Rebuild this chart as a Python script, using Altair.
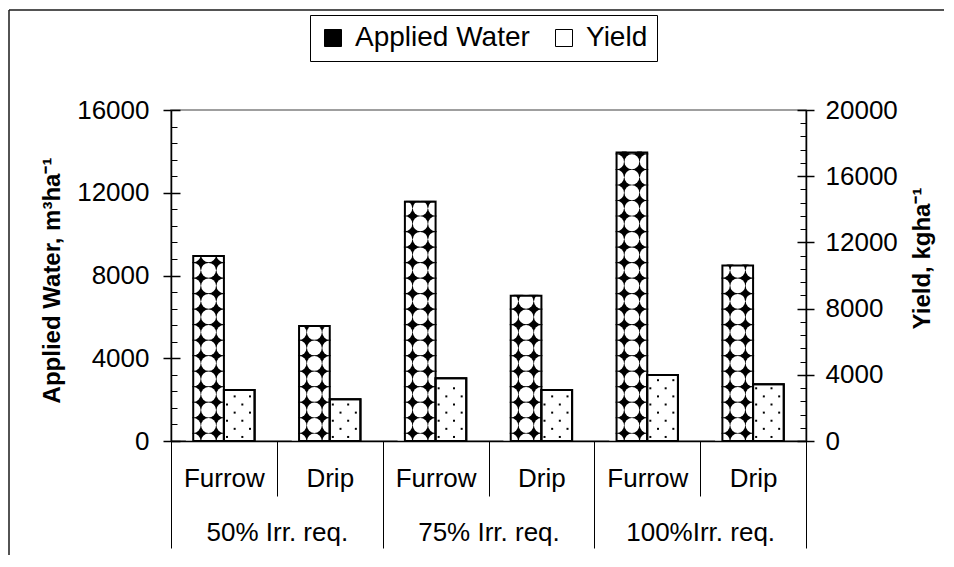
import json
import altair as alt
import pandas as pd

# ---------------- data ----------------
irrigation = ["50% Irr. req.", "75% Irr. req.", "100%Irr. req."]
methods = ["Furrow", "Drip"]
series = ["Applied Water", "Yield"]
applied_water = [8940, 5560, 11570, 7020, 13940, 8480]   # m3/ha (left axis)
yield_kg = [3080, 2520, 3790, 3080, 3990, 3430]           # kg/ha (right axis)
left_ticks = [0, 4000, 8000, 12000, 16000]
right_ticks = [0, 4000, 8000, 12000, 16000, 20000]

FONT = "Liberation Sans"
n = len(applied_water)
slots = list(range(n))
W = 0.29  # bar width in category units

bars = pd.DataFrame({
    "slot": slots,
    "group": [irrigation[i // 2] for i in slots],
    "method": [methods[i % 2] for i in slots],
    "applied": applied_water,
    "yield": yield_kg,
})
bars["zero"] = 0
bars["a_left"] = bars["slot"] + 0.5 - W
bars["mid"] = bars["slot"] + 0.5
bars["y_right"] = bars["slot"] + 0.5 + W
bars["s_applied"] = series[0]
bars["s_yield"] = series[1]

# pattern helpers derived from the bar values (white circles -> black stars)
P_A = 750
circ = []
for i, v in enumerate(applied_water):
    k = 0
    while k * P_A <= v + 0.6 * P_A:
        for f in (0.0, 0.5, 1.0):
            circ.append({"cx": i + 0.5 - W + f * W, "cy": k * P_A})
        k += 1
circ_df = pd.DataFrame(circ)

P_Y = 490
dots = []
for i, v in enumerate(yield_kg):
    k = 0
    while (k + 0.5) * P_Y <= v - 200:
        offs = (0.1, 0.6) if k % 2 == 0 else (0.35, 0.85)
        for f in offs:
            dots.append({"dx": i + 0.5 + f * W, "dy": (k + 0.5) * P_Y})
        k += 1
dots_df = pd.DataFrame(dots)

# ---------------- scales ----------------
xs = alt.Scale(domain=[0, n], nice=False, zero=False)
yA = alt.Scale(domain=[0, 16000], nice=False)
yY = alt.Scale(domain=[0, 20000], nice=False)
fill_scale = alt.Scale(domain=series, range=["black", "white"])


def ax(**kw):
    base = dict(title=None, grid=False, labels=False, ticks=False, domain=False,
                zindex=1, labelFlush=False, labelOverlap=False)
    base.update(kw)
    return alt.Axis(**base)


method_labels = json.dumps([methods[i % 2] for i in slots])
group_labels = json.dumps(irrigation)

X1 = ax(orient="bottom", labels=True, values=[i + 0.5 for i in slots],
        labelExpr=f"{method_labels}[floor(datum.value)]",
        labelFont=FONT, labelFontSize=26, labelColor="black", labelPadding=37,
        labelBaseline="middle", tickSize=0, domain=True, domainColor="black",
        domainWidth=1.5)
X2 = ax(orient="bottom", ticks=True, values=[2 * g + 1 for g in range(len(irrigation))],
        tickSize=55, tickColor="black", tickWidth=1)
X3 = ax(orient="bottom", ticks=True, values=[2 * g for g in range(len(irrigation) + 1)],
        tickSize=107, tickColor="black", tickWidth=1)
X4 = ax(orient="bottom", labels=True, values=[2 * g + 1 for g in range(len(irrigation))],
        labelExpr=f"{group_labels}[floor(datum.value / 2)]",
        labelFont=FONT, labelFontSize=26, labelColor="black", labelPadding=91,
        labelBaseline="middle", tickSize=0)

YA_main = ax(orient="left", labels=True, ticks=True, domain=True, values=left_ticks,
             format="d", labelFont=FONT, labelFontSize=26, labelColor="black",
             labelPadding=14, tickSize=8, tickWidth=1.5, tickColor="black",
             domainColor="black", domainWidth=1.5,
             title="Applied Water, m\u00b3ha\u207b\u00b9", titleFont=FONT,
             titleFontSize=24, titleFontWeight="bold", titleColor="black",
             titleAngle=270, titleX=-119, titleY=170, titleAlign="center",
             titleBaseline="middle")
YA_inner = ax(orient="left", ticks=True, values=left_ticks, offset=-9, tickSize=9,
              tickWidth=1.5, tickColor="black")
YA_minor = ax(orient="left", ticks=True, values=list(range(0, 16001, 800)), offset=-6,
              tickSize=6, tickWidth=1, tickColor="black")

YY_main = ax(orient="right", labels=True, ticks=True, domain=True, values=right_ticks,
             format="d", labelFont=FONT, labelFontSize=26, labelColor="black",
             labelPadding=11, tickSize=8, tickWidth=1.5, tickColor="black",
             domainColor="black", domainWidth=1.5,
             title="Yield, kgha\u207b\u00b9", titleFont=FONT,
             titleFontSize=24, titleFontWeight="bold", titleColor="black",
             titleAngle=270, titleX=116, titleY=148, titleAlign="center",
             titleBaseline="middle")
YY_inner = ax(orient="right", ticks=True, values=right_ticks, offset=-9, tickSize=9,
              tickWidth=1.5, tickColor="black")
YY_minor = ax(orient="right", ticks=True, values=list(range(0, 20001, 800)), offset=-6,
              tickSize=6, tickWidth=1, tickColor="black")

legend = alt.Legend(title=None, orient="none", legendX=139, legendY=-95,
                    direction="horizontal", symbolType="square", symbolSize=289,
                    symbolStrokeColor="black", symbolStrokeWidth=1,
                    labelFont=FONT, labelFontSize=28, labelColor="black",
                    labelLimit=400, labelOffset=8, padding=9,
                    strokeColor="black", columnPadding=20)

# ---------------- applied water (left axis) ----------------
A1 = alt.Chart(bars).mark_rect(stroke="black", strokeWidth=2).encode(
    x=alt.X("a_left:Q", scale=xs, axis=X1), x2="mid",
    y=alt.Y("applied:Q", scale=yA, axis=YA_main), y2="zero",
    fill=alt.Fill("s_applied:N", scale=fill_scale, legend=legend),
)
A2 = alt.Chart(circ_df).mark_point(shape="circle", filled=True, color="white",
                                   size=220, opacity=1, strokeWidth=0).encode(
    x=alt.X("cx:Q", scale=xs, axis=X2),
    y=alt.Y("cy:Q", scale=yA, axis=YA_inner),
)
A3 = alt.Chart(bars).mark_rect(filled=False, stroke="black", strokeWidth=2).encode(
    x=alt.X("a_left:Q", scale=xs, axis=X3), x2="mid",
    y=alt.Y("applied:Q", scale=yA, axis=YA_minor), y2="zero",
)
applied_group = alt.layer(A1, A2, A3).resolve_axis(x="independent", y="independent")

# ---------------- yield (right axis) ----------------
Y1 = alt.Chart(bars).mark_rect(stroke="black", strokeWidth=2).encode(
    x=alt.X("mid:Q", scale=xs, axis=X4), x2="y_right",
    y=alt.Y("yield:Q", scale=yY, axis=YY_main), y2="zero",
    fill=alt.Fill("s_yield:N", scale=fill_scale, legend=None),
)
Y2 = alt.Chart(dots_df).mark_point(shape="square", filled=True, color="black",
                                   size=4, opacity=1, strokeWidth=0).encode(
    x=alt.X("dx:Q", scale=xs, axis=None),
    y=alt.Y("dy:Q", scale=yY, axis=YY_inner),
)
Y3 = alt.Chart(bars).mark_rect(filled=False, stroke="black", strokeWidth=2).encode(
    x=alt.X("mid:Q", scale=xs, axis=None), x2="y_right",
    y=alt.Y("yield:Q", scale=yY, axis=YY_minor), y2="zero",
)
yield_group = alt.layer(Y1, Y2, Y3).resolve_axis(x="independent", y="independent")

# ---------------- outer frame ----------------
frame_df = pd.DataFrame({"k": [0]})
frame_top = alt.Chart(frame_df).mark_rule(color="#1a1a1a", strokeWidth=1.5).encode(
    x=alt.value(-162), x2=alt.value(773), y=alt.value(-100))
frame_left = alt.Chart(frame_df).mark_rule(color="#1a1a1a", strokeWidth=1.5).encode(
    x=alt.value(-162), y=alt.value(-100), y2=alt.value(445))

chart = (
    alt.layer(applied_group, yield_group, frame_top, frame_left)
    .resolve_scale(y="independent")
    .resolve_axis(x="independent", y="independent")
    .properties(width=635, height=331,
                padding={"left": 0, "top": 1, "right": 0, "bottom": 0},
                background="white")
    .configure(font=FONT)
    .configure_view(stroke="#808080", strokeWidth=1.5)
    .configure_axis(grid=False, zindex=1)
)

chart.save("out.html", embed_options={"renderer": "svg", "actions": False})
